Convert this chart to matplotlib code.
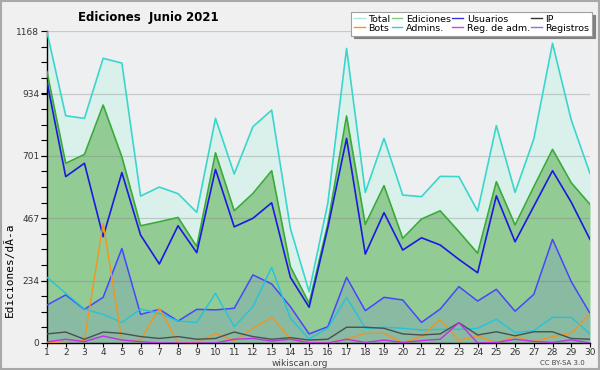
import numpy as np
import matplotlib
matplotlib.use("Agg")
import matplotlib.pyplot as plt
from matplotlib.ticker import FixedLocator, NullFormatter
from matplotlib.patches import Rectangle

plt.rcParams["font.family"] = ["DejaVu Sans"]

# --- data ---
days = list(range(1, 31))
total = [1165, 851, 841, 1066, 1048, 550, 584, 559, 489, 841,
         633, 810, 872, 429, 192, 524, 1103, 564, 766, 554,
         548, 624, 623, 494, 814, 564, 764, 1122, 835, 635]
ediciones = [1016, 673, 706, 891, 697, 439, 454, 470, 361, 712,
             495, 560, 645, 286, 149, 447, 850, 444, 589, 392,
             464, 495, 417, 336, 604, 442, 585, 725, 600, 519]
usuarios = [978, 623, 673, 398, 638, 404, 296, 439, 338, 650,
            435, 467, 525, 246, 134, 432, 766, 333, 488, 348,
            394, 367, 313, 263, 551, 379, 512, 645, 527, 388]
ip = [34, 41, 14, 41, 36, 24, 17, 24, 14, 17,
      41, 24, 14, 20, 11, 14, 59, 59, 55, 34,
      30, 34, 76, 30, 42, 27, 42, 42, 17, 14]
bots = [1, 5, 11, 448, 11, 11, 130, 0, 2, 36,
        9, 55, 96, 17, 0, 0, 14, 36, 36, 1,
        24, 89, 9, 27, 1, 24, 5, 24, 36, 109]
admins = [246, 186, 127, 107, 77, 127, 111, 82, 77, 186,
          61, 136, 283, 92, 15, 55, 171, 55, 59, 55,
          49, 51, 51, 55, 89, 39, 46, 96, 96, 34]
reg_adm = [4, 14, 5, 26, 11, 5, 0, 0, 0, 0,
           14, 17, 7, 14, 1, 0, 14, 2, 11, 2,
           9, 14, 76, 0, 2, 14, 6, 2, 12, 0]
registros = [142, 180, 126, 171, 354, 107, 126, 82, 126, 124,
             130, 255, 221, 136, 34, 61, 246, 121, 171, 161,
             77, 127, 211, 157, 201, 119, 182, 388, 230, 111]

ymax = 1168
ytick_vals = [0, 234, 467, 701, 934, 1168]

fig = plt.figure(figsize=(6, 3.7), dpi=100, facecolor="#f0f0f0")
fig.add_artist(Rectangle((0.002, 0.003), 0.996, 0.994, transform=fig.transFigure,
                         fill=False, edgecolor="#a8a8a8", lw=1.5))
ax = fig.add_axes([0.0783, 0.073, 0.905, 0.843])
ax.set_facecolor("#eeeff1")

x = np.array(days)
ax.fill_between(x, 0, total, color="#d9f1ea", zorder=1, lw=0)
ax.fill_between(x, 0, ediciones, color="#93cb95", zorder=2, lw=0)
ax.fill_between(x, 0, registros, color="#4a4aff", alpha=0.13, zorder=3, lw=0)

ax.plot(x, total, color="#3ad6cc", lw=1.2, zorder=5)
ax.plot(x, ediciones, color="#3aaa3a", lw=1.2, zorder=5)
ax.plot(x, usuarios, color="#1a1ae0", lw=1.2, zorder=6)
ax.plot(x, registros, color="#4646ff", lw=1.1, zorder=6)
ax.plot(x, admins, color="#22c4dd", lw=1.0, zorder=6)
ax.plot(x, bots, color="#f39420", lw=1.0, zorder=6)
ax.plot(x, ip, color="#4a5050", lw=1.0, zorder=6)
ax.plot(x, reg_adm, color="#c030e8", lw=1.0, zorder=7)

ax.set_xlim(1, 30)
ax.set_ylim(0, ymax)
ax.set_xticks(days)
ax.set_xticklabels([str(d) for d in days], fontsize=6.5, color="#333333")
ax.yaxis.set_major_locator(FixedLocator(ytick_vals))
ax.set_yticklabels([str(v) for v in ytick_vals], fontsize=6.5, color="#333333")
ax.yaxis.set_minor_locator(FixedLocator(np.arange(0, ymax + 1, ymax / 20)))
ax.yaxis.set_minor_formatter(NullFormatter())
ax.tick_params(axis="y", which="both", length=4, width=0.8, pad=1.5)
ax.tick_params(axis="x", which="both", length=3, width=0.8, pad=0.5)
ax.grid(axis="y", which="major", color="#808080", alpha=0.35, lw=0.9, zorder=4)
ax.set_axisbelow(False)
for s in ["top", "right"]:
    ax.spines[s].set_visible(False)
ax.spines["left"].set_linewidth(1.0)
ax.spines["bottom"].set_linewidth(1.0)

ax.set_ylabel("Ediciones/dÃ-a", fontsize=8, family="DejaVu Sans Mono")
ax.yaxis.set_label_coords(-0.06, 0.235)

fig.text(0.247, 0.952, "Ediciones  Junio 2021", fontsize=8.5, fontweight="bold",
         ha="center", va="center")
fig.text(0.5, 0.018, "wikiscan.org", fontsize=6.5, ha="center", va="center", color="#444444")
fig.text(0.975, 0.02, "CC BY-SA 3.0", fontsize=5, ha="right", va="center", color="#444444")

# legend, column-major order for 2 rows x 4 cols
names = ["Total", "Bots", "Ediciones", "Admins.", "Usuarios", "Reg. de adm.", "IP", "Registros"]
lcolors = ["#a8e8e0", "#f39420", "#7ccc7c", "#33ccdd", "#3333dd", "#cc44ee", "#333333", "#7777ee"]
handles = [plt.Line2D([], [], color=c, lw=1.0) for c in lcolors]
leg = fig.legend(handles, names, ncol=4, loc="upper right", bbox_to_anchor=(0.987, 0.968),
                 fontsize=6.8, frameon=True, fancybox=False, shadow={"color": "#808080", "alpha": 1},
                 handlelength=1.1, handletextpad=0.4, columnspacing=0.15, labelspacing=0.0,
                 borderpad=0.3, borderaxespad=0)
leg.get_frame().set_edgecolor("#a0a0a0")
leg.get_frame().set_linewidth(0.8)

fig.savefig("out.png", dpi=100, facecolor=fig.get_facecolor())
